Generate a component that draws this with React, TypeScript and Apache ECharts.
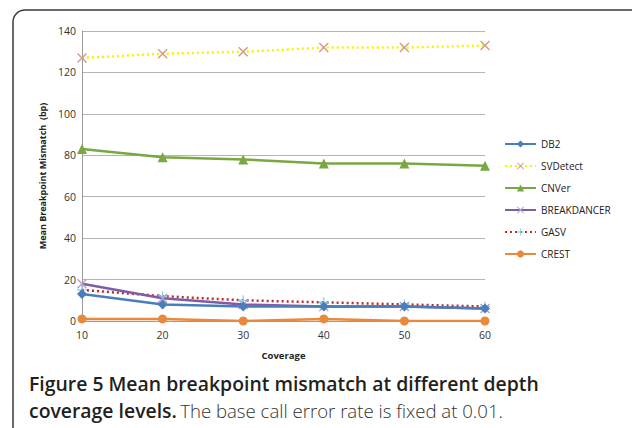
import React, { useEffect, useRef } from "react";
import * as echarts from "echarts";

const coverage = [10, 20, 30, 40, 50, 60];
const seriesNames = ["DB2", "SVDetect", "CNVer", "BREAKDANCER", "GASV", "CREST"];
const db2 = [13, 8, 7, 7, 7, 6];
const svdetect = [127, 129, 130, 132, 132, 133];
const cnver = [83, 79, 78, 76, 76, 75];
const breakdancer = [18, 11, 8, 7, 7, 6];
const gasv = [15, 12, 10, 9, 8, 7];
const crest = [1, 1, 0, 1, 0, 0];
const yTicks = [0, 20, 40, 60, 80, 100, 120, 140];

const X_PATH = "path://M0,1L1,0L5,4L9,0L10,1L6,5L10,9L9,10L5,6L1,10L0,9L4,5Z";
const PLUS_PATH = "path://M4.4,0H5.6V4.4H10V5.6H5.6V10H4.4V5.6H0V4.4H4.4Z";

function pairs(vals: number[]) {
  return coverage.map((c, i) => [c, vals[i]]);
}

export default function App() {
  const ref = useRef<HTMLDivElement>(null);
  useEffect(() => {
    document.body.style.margin = "0";
    const chart = echarts.init(ref.current!, null, { renderer: "svg" });
    const font = "Open Sans";
    chart.setOption({
      animation: false,
      backgroundColor: "#ffffff",
      textStyle: { fontFamily: font },
      grid: { left: 82, right: 147, top: 31, bottom: 107, containLabel: false },
      xAxis: {
        type: "value",
        min: 10,
        max: 60,
        interval: 10,
        name: "Coverage",
        nameLocation: "middle",
        nameGap: 29,
        nameTextStyle: { fontFamily: font, fontSize: 9.5, fontWeight: "bold", color: "#222" },
        axisLine: { show: true, lineStyle: { color: "#9a9a9a", width: 1 } },
        axisTick: { show: false },
        splitLine: { show: false },
        axisLabel: { fontFamily: font, fontSize: 10.5, color: "#333", margin: 8 },
      },
      yAxis: {
        type: "value",
        min: yTicks[0],
        max: yTicks[yTicks.length - 1],
        interval: 20,
        name: "Mean Breakpoint Mismatch  (bp)",
        nameLocation: "middle",
        nameGap: 32,
        nameTextStyle: { fontFamily: font, fontSize: 9, fontWeight: "bold", color: "#222" },
        axisLine: { show: true, lineStyle: { color: "#9a9a9a", width: 1 } },
        axisTick: { show: false },
        splitLine: { show: true, lineStyle: { color: "#b4b4b4", width: 1 } },
        axisLabel: { fontFamily: font, fontSize: 10.5, color: "#333", margin: 6 },
      },
      legend: {
        orient: "vertical",
        left: 499,
        top: 134,
        itemWidth: 31,
        itemHeight: 9,
        itemGap: 12,
        data: seriesNames,
        textStyle: { fontFamily: font, fontSize: 10, color: "#222" },
      },
      series: [
        {
          name: "DB2",
          type: "line",
          data: pairs(db2),
          symbol: "diamond",
          symbolSize: 10,
          lineStyle: { color: "#4a7ebb", width: 2.5 },
          itemStyle: { color: "#4a7ebb" },
          z: 5,
        },
        {
          name: "SVDetect",
          type: "line",
          data: pairs(svdetect),
          symbol: X_PATH,
          symbolSize: 10,
          lineStyle: { color: "#f5f500", width: 2.5, type: [2, 3] },
          itemStyle: { color: "#d09a8c" },
        },
        {
          name: "CNVer",
          type: "line",
          data: pairs(cnver),
          symbol: "triangle",
          symbolSize: 10,
          lineStyle: { color: "#7aa744", width: 2.5 },
          itemStyle: { color: "#7aa744" },
        },
        {
          name: "BREAKDANCER",
          type: "line",
          data: pairs(breakdancer),
          symbol: X_PATH,
          symbolSize: 10,
          lineStyle: { color: "#7d5ea5", width: 2.5 },
          itemStyle: { color: "#b3a2c7" },
          z: 4,
        },
        {
          name: "GASV",
          type: "line",
          data: pairs(gasv),
          symbol: PLUS_PATH,
          symbolSize: 10,
          lineStyle: { color: "#c0282d", width: 2.5, type: [2, 3] },
          itemStyle: { color: "#8ccbe0" },
          z: 3,
        },
        {
          name: "CREST",
          type: "line",
          data: pairs(crest),
          symbol: "circle",
          symbolSize: 9,
          lineStyle: { color: "#e8893c", width: 2.5 },
          itemStyle: { color: "#e8893c" },
        },
      ],
      graphic: [
        {
          type: "rect",
          shape: { x: 13, y: 10, width: 640, height: 440, r: 12 },
          style: { fill: "none", stroke: "#3a3a3a", lineWidth: 1.5 },
          silent: true,
          z: -10,
        },
        {
          type: "text",
          left: 29,
          top: 374,
          style: {
            text: "Figure 5 Mean breakpoint mismatch at different depth",
            font: `600 19.4px "${font}"`,
            fill: "#231f20",
          },
        },
        {
          type: "text",
          left: 29,
          top: 401,
          style: {
            text: "{b|coverage levels.} {n|The base call error rate is fixed at 0.01.}",
            rich: {
              b: { font: `600 19.4px "${font}"`, fill: "#231f20" },
              n: { font: `300 18.6px "${font}"`, fill: "#333" },
            },
          },
        },
      ],
    });
    return () => chart.dispose();
  }, []);
  return <div ref={ref} style={{ width: 632, height: 428 }} />;
}
